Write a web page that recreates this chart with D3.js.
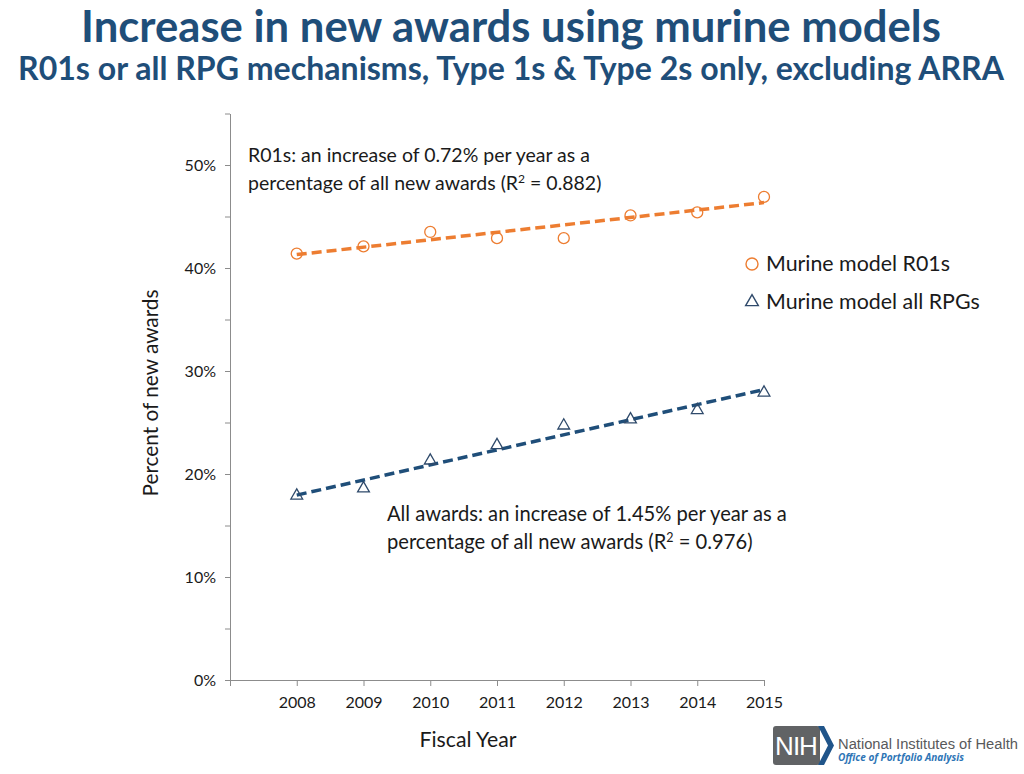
<!DOCTYPE html>
<html>
<head>
<meta charset="utf-8">
<script src="https://cdn.jsdelivr.net/npm/d3@7"></script>
<style>
  html, body { margin: 0; padding: 0; background: #fff; }
  svg { display: block; }
</style>
</head>
<body>
<svg id="chart" width="1024" height="774"></svg>
<script>
// ---------- data ----------
const years = [2008, 2009, 2010, 2011, 2012, 2013, 2014, 2015];
const r01Values = [41.4, 42.1, 43.5, 42.9, 42.9, 45.1, 45.4, 46.9];
const rpgValues = [17.9, 18.6, 21.3, 22.8, 24.7, 25.3, 26.2, 27.9];
const trendYears = [2008, 2015];
const r01Trend = [41.3, 46.35];
const rpgTrend = [17.95, 28.2];
const yTickValues = [0, 5, 10, 15, 20, 25, 30, 35, 40, 45, 50, 55];
const xTickValues = [2007, 2008, 2009, 2010, 2011, 2012, 2013, 2014, 2015];
const seriesNames = ["Murine model R01s", "Murine model all RPGs"];
const titleText = "Increase in new awards using murine models";
const subtitleText = "R01s or all RPG mechanisms, Type 1s & Type 2s only, excluding ARRA";
const note1 = ["R01s: an increase of 0.72% per year as a", "percentage of all new awards (R", "2", " = 0.882)"];
const note2 = ["All awards: an increase of 1.45% per year as a", "percentage of all new awards (R", "2", " = 0.976)"];

// ---------- setup ----------
const svg = d3.select("#chart");
const FONT = "Lato, 'Open Sans', sans-serif";
const ORANGE = "#ED7D31";
const NAVY = "#1F4E79";
const TEXT = "#1a1a1a";
const AXIS = "#8c8c8c";
const TITLE = "#1F4E79";

svg.append("rect").attr("width", 1024).attr("height", 774).attr("fill", "#fff");

function fit(sel, width) {
  const w = sel.node().getComputedTextLength();
  const fs = parseFloat(sel.attr("font-size"));
  sel.attr("font-size", (fs * width / w).toFixed(2));
}

// ---------- titles ----------
const t1 = svg.append("text").attr("x", 511).attr("y", 42)
  .attr("text-anchor", "middle").attr("font-family", FONT).attr("font-weight", 700)
  .attr("font-size", 40).attr("fill", TITLE).text(titleText);
fit(t1, 860);
const t2 = svg.append("text").attr("x", 511).attr("y", 80)
  .attr("text-anchor", "middle").attr("font-family", FONT).attr("font-weight", 700)
  .attr("font-size", 28).attr("fill", TITLE).text(subtitleText);
fit(t2, 986);

// ---------- scales ----------
const x = d3.scaleLinear().domain([2007, 2015]).range([230, 764]);
const y = d3.scaleLinear().domain([0, 55]).range([680, 113.5]);

// ---------- axes ----------
const yAxis = d3.axisLeft(y).tickValues(yTickValues).tickSize(5).tickSizeOuter(0)
  .tickPadding(9).tickFormat(d => (d % 10 === 0 && d <= 50) ? d + "%" : "");
const gy = svg.append("g").attr("transform", "translate(230,0)").call(yAxis);
gy.select(".domain").attr("stroke", AXIS);
gy.selectAll(".tick line").attr("stroke", AXIS);
gy.selectAll(".tick text").attr("font-family", FONT).attr("font-size", 16).attr("fill", TEXT);

const xAxis = d3.axisBottom(x).tickValues(xTickValues).tickSize(6).tickSizeOuter(0)
  .tickPadding(11).tickFormat(d => d === 2007 ? "" : String(d));
const gx = svg.append("g").attr("transform", "translate(0,680)").call(xAxis);
gx.select(".domain").attr("stroke", AXIS);
gx.selectAll(".tick line").attr("stroke", AXIS);
gx.selectAll(".tick text").attr("font-family", FONT).attr("font-size", 16).attr("fill", TEXT);

// axis titles
const yt = svg.append("text")
  .attr("transform", "translate(158,393) rotate(-90)")
  .attr("text-anchor", "middle").attr("font-family", FONT).attr("font-size", 19)
  .attr("fill", TEXT).text("Percent of new awards");
fit(yt, 207);
const xt = svg.append("text").attr("x", 468).attr("y", 747)
  .attr("text-anchor", "middle").attr("font-family", FONT).attr("font-size", 19)
  .attr("fill", TEXT).text("Fiscal Year");
fit(xt, 97);

// ---------- trend lines ----------
const line = d3.line().x(d => x(d[0])).y(d => y(d[1]));
svg.append("path").datum(trendYears.map((t, i) => [t, r01Trend[i]]))
  .attr("d", line).attr("fill", "none").attr("stroke", ORANGE)
  .attr("stroke-width", 3.5).attr("stroke-dasharray", "10,5");
svg.append("path").datum(trendYears.map((t, i) => [t, rpgTrend[i]]))
  .attr("d", line).attr("fill", "none").attr("stroke", NAVY)
  .attr("stroke-width", 3.5).attr("stroke-dasharray", "10,5");

// ---------- markers ----------
const tri = d3.symbol().type(d3.symbolTriangle).size(60);
svg.append("g").selectAll("circle").data(years).join("circle")
  .attr("cx", d => x(d)).attr("cy", (d, i) => y(r01Values[i])).attr("r", 5.5)
  .attr("fill", "none").attr("stroke", ORANGE).attr("stroke-width", 1.3);
svg.append("g").selectAll("path").data(years).join("path")
  .attr("d", tri)
  .attr("transform", (d, i) => `translate(${x(d)},${y(rpgValues[i])})`)
  .attr("fill", "none").attr("stroke", "#2F4A6B").attr("stroke-width", 1.3);

// ---------- annotations ----------
function note(lines, x0, y0, w1) {
  const a = svg.append("text").attr("x", x0).attr("y", y0).attr("font-family", FONT)
    .attr("font-size", 18).attr("fill", TEXT).text(lines[0]);
  fit(a, w1);
  const fs = a.attr("font-size");
  const b = svg.append("text").attr("x", x0).attr("y", y0 + 28).attr("font-family", FONT)
    .attr("font-size", fs).attr("fill", TEXT);
  b.append("tspan").text(lines[1]);
  b.append("tspan").attr("dy", -7).attr("font-size", fs * 0.62).text(lines[2]);
  b.append("tspan").attr("dy", 7).text(lines[3]);
}
note(note1, 248, 162, 342);
note(note2, 387, 521, 400);

// ---------- legend ----------
const lg = svg.append("g");
lg.append("circle").attr("cx", 752).attr("cy", 264).attr("r", 6)
  .attr("fill", "none").attr("stroke", ORANGE).attr("stroke-width", 1.4);
lg.append("path").attr("d", d3.symbol().type(d3.symbolTriangle).size(70))
  .attr("transform", "translate(752,302)")
  .attr("fill", "none").attr("stroke", "#2F4A6B").attr("stroke-width", 1.4);
const l1 = lg.append("text").attr("x", 766).attr("y", 271).attr("font-family", FONT)
  .attr("font-size", 19).attr("fill", TEXT).text(seriesNames[0]);
fit(l1, 184);
lg.append("text").attr("x", 766).attr("y", 309).attr("font-family", FONT)
  .attr("font-size", l1.attr("font-size")).attr("fill", TEXT).text(seriesNames[1]);

// ---------- NIH logo ----------
const logo = svg.append("g");
logo.append("rect").attr("x", 773).attr("y", 726).attr("width", 47).attr("height", 39)
  .attr("rx", 3).attr("fill", "#616365");
logo.append("path").attr("d", "M818,726 L824,726 L834,745.5 L824,765 L818,765 L828,745.5 Z")
  .attr("fill", "#20558A");
logo.append("text").attr("x", 796).attr("y", 755).attr("text-anchor", "middle")
  .attr("font-family", "'Liberation Sans', Arial, sans-serif").attr("font-size", 26)
  .attr("fill", "#fff").attr("letter-spacing", -1).text("NIH");
const n1 = logo.append("text").attr("x", 838).attr("y", 749)
  .attr("font-family", "'Liberation Sans', Arial, sans-serif").attr("font-size", 14)
  .attr("fill", "#58595b").text("National Institutes of Health");
fit(n1, 180);
const n2 = logo.append("text").attr("x", 838).attr("y", 761)
  .attr("font-family", "'Open Sans', sans-serif").attr("font-size", 11)
  .attr("font-style", "italic").attr("font-weight", 700)
  .attr("fill", "#2E75B6").text("Office of Portfolio Analysis");
fit(n2, 126);
</script>
</body>
</html>
